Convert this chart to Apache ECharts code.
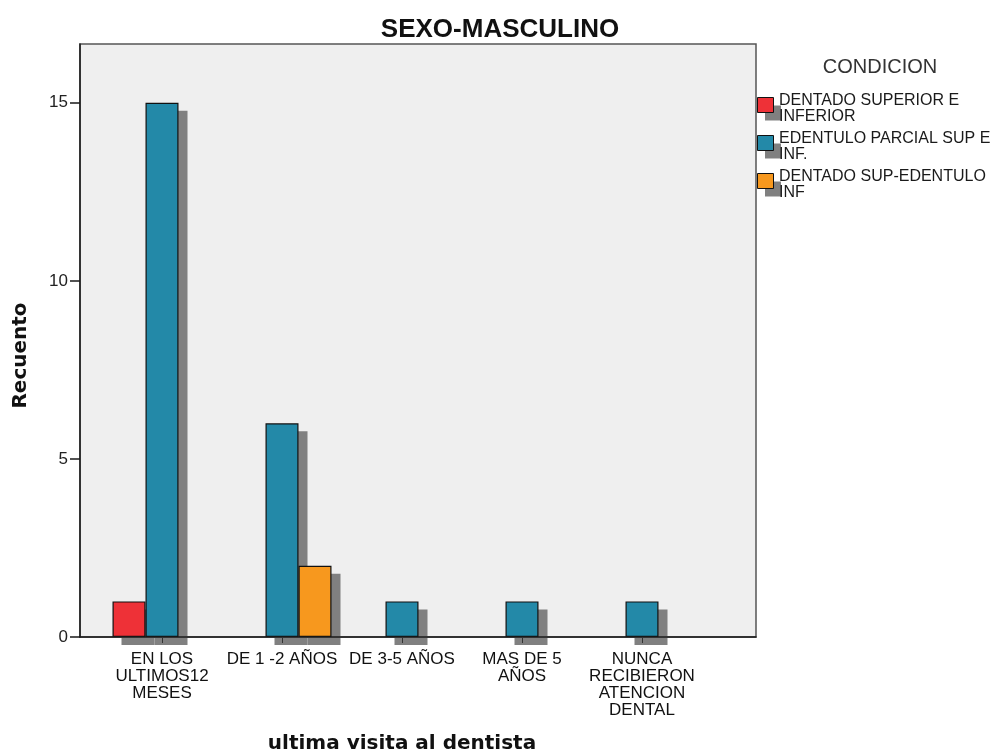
<!DOCTYPE html>
<html>
<head>
<meta charset="utf-8">
<script src="https://cdn.jsdelivr.net/npm/echarts@6/dist/echarts.min.js"></script>
<style>html,body{margin:0;padding:0;background:#fff}#c{width:998px;height:756px}</style>
</head>
<body>
<div id="c"></div>
<script>
const categories = ['EN LOS\nULTIMOS12\nMESES', 'DE 1 -2 AÑOS', 'DE 3-5 AÑOS', 'MAS DE 5\nAÑOS', 'NUNCA\nRECIBIERON\nATENCION\nDENTAL'];
const seriesNames = ['DENTADO SUPERIOR E\nINFERIOR', 'EDENTULO PARCIAL SUP E\nINF.', 'DENTADO SUP-EDENTULO\nINF'];
const dentadoSupInf = [1, 0, 0, 0, 0];
const edentuloParcial = [15, 6, 1, 1, 1];
const dentadoSupEdentuloInf = [0, 2, 0, 0, 0];
const yTicks = [0, 5, 10, 15];
const colors = ['#ee3137', '#2389a8', '#f7981e'];

const values = [dentadoSupInf, edentuloParcial, dentadoSupEdentuloInf];
const font = 'Liberation Sans';
const boldFont = 'DejaVu Sans';
const yMax = 16.65;
const shadowColor = '#808080';

const legendBase = {
  orient: 'vertical', padding: 0, itemGap: -8,
  itemWidth: 16, itemHeight: 15, icon: 'rect', selectedMode: false,
  data: seriesNames
};
const legendText = {fontFamily: font, fontSize: 16, lineHeight: 16, padding: [14, 0, 0, -2]};
const hidden = 'rgba(0,0,0,0)';

const chart = echarts.init(document.getElementById('c'), null, {renderer: 'canvas'});
chart.setOption({
  animation: false,
  title: [
    {text: 'SEXO-MASCULINO', left: 495, top: 12, textAlign: 'center',
     textStyle: {fontFamily: font, fontWeight: 'bold', fontSize: 26, color: '#111'}},
    {text: 'CONDICION', left: 875, top: 52, textAlign: 'center',
     textStyle: {fontFamily: font, fontWeight: 'normal', fontSize: 20, color: '#333'}}
  ],
  legend: [
    Object.assign({}, legendBase, {
      left: 765, top: 90, z: 3,
      itemStyle: {color: shadowColor, borderWidth: 0},
      textStyle: Object.assign({}, legendText, {color: hidden})
    }),
    Object.assign({}, legendBase, {
      left: 757, top: 82, z: 4,
      itemStyle: {borderColor: '#111', borderWidth: 1},
      textStyle: Object.assign({}, legendText, {color: hidden})
    }),
    Object.assign({}, legendBase, {
      left: 760, top: 86, z: 5,
      itemStyle: {color: hidden, borderWidth: 0},
      textStyle: Object.assign({}, legendText, {color: '#1a1a1a'})
    })
  ],
  grid: [
    {left: 80, top: 44, width: 676, height: 593, outerBoundsMode: 'none', containLabel: false,
     show: true, backgroundColor: '#efefef', borderColor: '#555', borderWidth: 1.5},
    {left: 102, top: 44, width: 600, height: 593, outerBoundsMode: 'none', containLabel: false},
    {left: 111, top: 52, width: 600, height: 593, outerBoundsMode: 'none', containLabel: false}
  ],
  xAxis: [
    {gridIndex: 0, type: 'value', min: 0, max: 1, z: 5,
     axisLine: {show: true, lineStyle: {color: '#1a1a1a', width: 1.5}},
     axisTick: {show: false}, axisLabel: {show: false}, splitLine: {show: false}},
    {gridIndex: 1, type: 'category', data: categories, z: 5,
     axisLine: {show: false},
     axisTick: {show: true, alignWithLabel: true, length: 6, lineStyle: {color: '#333'}},
     axisLabel: {interval: 0, margin: 14, fontFamily: font, fontSize: 17, lineHeight: 17, color: '#111'},
     name: 'ultima visita al dentista', nameLocation: 'middle', nameGap: 97,
     nameTextStyle: {fontFamily: boldFont, fontWeight: 'bold', fontSize: 20, color: '#111'}},
    {gridIndex: 2, type: 'category', data: categories, show: false}
  ],
  yAxis: [
    {gridIndex: 0, type: 'value', min: 0, max: yMax, z: 5,
     axisLine: {show: true, lineStyle: {color: '#1a1a1a', width: 1.5}},
     axisTick: {show: true, length: 10, customValues: yTicks, lineStyle: {color: '#1a1a1a', width: 1.5}},
     axisLabel: {margin: 12, padding: [6, 0, 0, 0], customValues: yTicks, fontFamily: font, fontSize: 17, color: '#222'},
     splitLine: {show: false},
     name: 'Recuento', nameLocation: 'middle', nameGap: 49,
     nameTextStyle: {fontFamily: boldFont, fontWeight: 'bold', fontSize: 20, color: '#111', padding: [0, 30, 0, 0]}},
    {gridIndex: 1, type: 'value', min: 0, max: yMax, show: false},
    {gridIndex: 2, type: 'value', min: 0, max: yMax, show: false}
  ],
  series: [].concat(
    seriesNames.map((name, i) => ({
      name: 'shadow-' + i, type: 'bar', xAxisIndex: 2, yAxisIndex: 2, z: 1,
      barWidth: 33, barGap: '0%', clip: false,
      data: values[i].map(v => v === 0 ? '-' : v),
      itemStyle: {color: shadowColor, borderWidth: 0},
      emphasis: {disabled: true}, silent: true
    })),
    seriesNames.map((name, i) => ({
      name: name, type: 'bar', xAxisIndex: 1, yAxisIndex: 1, z: 2,
      barWidth: 33, barGap: '0%', clip: false,
      data: values[i].map(v => v === 0 ? '-' : v),
      itemStyle: {color: colors[i], borderColor: '#111', borderWidth: 1.2},
      emphasis: {disabled: true}
    }))
  )
});
</script>
</body>
</html>
